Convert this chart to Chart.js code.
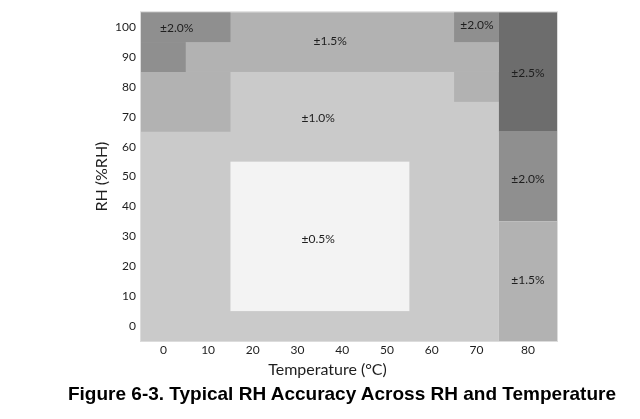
<!DOCTYPE html>
<html>
<head>
<meta charset="utf-8">
<script src="https://cdn.jsdelivr.net/npm/chart.js@4.4.1/dist/chart.umd.min.js"></script>
<style>
  html, body { margin: 0; padding: 0; background: #fff; }
  #wrap { position: relative; width: 640px; height: 419px; }
  #caption {
    position: absolute; left: 0; top: 383px; width: 640px; box-sizing: border-box;
    padding-left: 44px; text-align: center; white-space: nowrap;
    font: bold 19px "Liberation Sans", Arial, sans-serif; color: #000;
  }
</style>
</head>
<body>
<div id="wrap">
  <canvas id="rhChart" width="640" height="419"></canvas>
  <div id="caption">Figure 6-3. Typical RH Accuracy Across RH and Temperature</div>
</div>
<script>
  // Accuracy zones, painted in order (later ones sit on top).
const regionX0 = [-5, -5, -5, 65, -5, -5, 65, 75, 75, 75, 15];
const regionX1 = [75, 75, 15, 75, 15, 5, 75, 88, 88, 88, 55];
const regionY0 = [-5, 85, 65, 75, 95, 85, 95, 65, 35, -5, 5];
const regionY1 = [85, 105, 85, 85, 105, 95, 105, 105, 65, 35, 55];
const regionAcc = [1.0, 1.5, 1.5, 1.5, 2.0, 2.0, 2.0, 2.5, 2.0, 1.5, 0.5];

  // Zone labels (temperature, RH, accuracy)
const labelX = [3, 37.3, 70.1, 81.5, 34.6, 81.5, 34.6, 81.5];
const labelY = [99.6, 95.3, 100.6, 84.6, 69.6, 49.3, 29.0, 15.3];
const labelAcc = [2.0, 1.5, 2.0, 2.5, 1.0, 2.0, 0.5, 1.5];

  // The 80 °C column is wider, so its tick sits at the column centre.
const xTickValues = [0, 10, 20, 30, 40, 50, 60, 70, 81.5];
const xTickLabels = ['0', '10', '20', '30', '40', '50', '60', '70', '80'];
const yTickValues = [0, 10, 20, 30, 40, 50, 60, 70, 80, 90, 100];

const shade = {
    '0.5': '#f3f3f3',
    '1.0': '#cacaca',
    '1.5': '#b2b2b2',
    '2.0': '#8f8f8f',
    '2.5': '#6d6d6d',
};

const txt = '#1e1e1e';
const font = 'Lato, "Open Sans", sans-serif';

const zonePlugin = {
    id: 'zones',
    beforeDatasetsDraw(chart) {
        const { ctx, scales: { x, y }, chartArea } = chart;
        ctx.save();
        for (let i = 0; i < regionAcc.length; i++) {
            const l = x.getPixelForValue(regionX0[i]);
            const r = x.getPixelForValue(regionX1[i]);
            const t = y.getPixelForValue(regionY1[i]);
            const b = y.getPixelForValue(regionY0[i]);
            ctx.fillStyle = shade[regionAcc[i].toFixed(1)];
            ctx.fillRect(l, t, r - l, b - t);
        }
        ctx.strokeStyle = '#dcdcdc';
        ctx.lineWidth = 1;
        ctx.strokeRect(chartArea.left - 0.5, chartArea.top - 0.5,
            chartArea.width + 1, chartArea.height + 1);

        ctx.fillStyle = txt;
        ctx.font = '12px ' + font;
        ctx.textAlign = 'center';
        ctx.textBaseline = 'middle';
        for (let i = 0; i < labelAcc.length; i++) {
            ctx.fillText('±' + labelAcc[i].toFixed(1) + '%',
                x.getPixelForValue(labelX[i]), y.getPixelForValue(labelY[i]));
        }
        ctx.restore();
    },
    afterDraw(chart) {
        // x axis title sits a little left of the plot centre in the original
        const ctx = chart.ctx;
        ctx.save();
        ctx.fillStyle = txt;
        ctx.font = '16px ' + font;
        ctx.textAlign = 'center';
        ctx.textBaseline = 'middle';
        ctx.fillText('Temperature (°C)', 327.5, 370);
        ctx.restore();
    }
};

const config = {
    type: 'scatter',
    data: { datasets: [{ data: [] }] },
    options: {
        responsive: false,
        animation: false,
        layout: { padding: { top: 9, right: 83, left: 80, bottom: 0 } },
        plugins: { legend: { display: false }, tooltip: { enabled: false } },
        scales: {
            x: {
                type: 'linear',
                min: -5,
                max: 88,
                grid: { display: false, drawTicks: false },
                border: { display: false },
                afterBuildTicks: (s) => { s.ticks = xTickValues.map(v => ({ value: v })); },
                afterFit: (s) => { s.height = 78; },
                ticks: {
                    autoSkip: false,
                    maxRotation: 0,
                    padding: 2,
                    color: txt,
                    font: { family: font, size: 12 },
                    callback: (v, i) => xTickLabels[i],
                },
            },
            y: {
                type: 'linear',
                min: -5,
                max: 105,
                grid: { display: false, drawTicks: false },
                border: { display: false },
                afterBuildTicks: (s) => { s.ticks = yTickValues.map(v => ({ value: v })); },
                afterFit: (s) => { s.width = 61; },
                title: {
                    display: true,
                    text: 'RH (%RH)',
                    color: txt,
                    font: { family: font, size: 16 },
                    padding: { top: 12, bottom: 0 },
                },
                ticks: {
                    autoSkip: false,
                    padding: 5,
                    color: txt,
                    font: { family: font, size: 12 },
                },
            },
        },
    },
    plugins: [zonePlugin],
};

const rhChart = new Chart(document.getElementById('rhChart'), config);
</script>
</body>
</html>
